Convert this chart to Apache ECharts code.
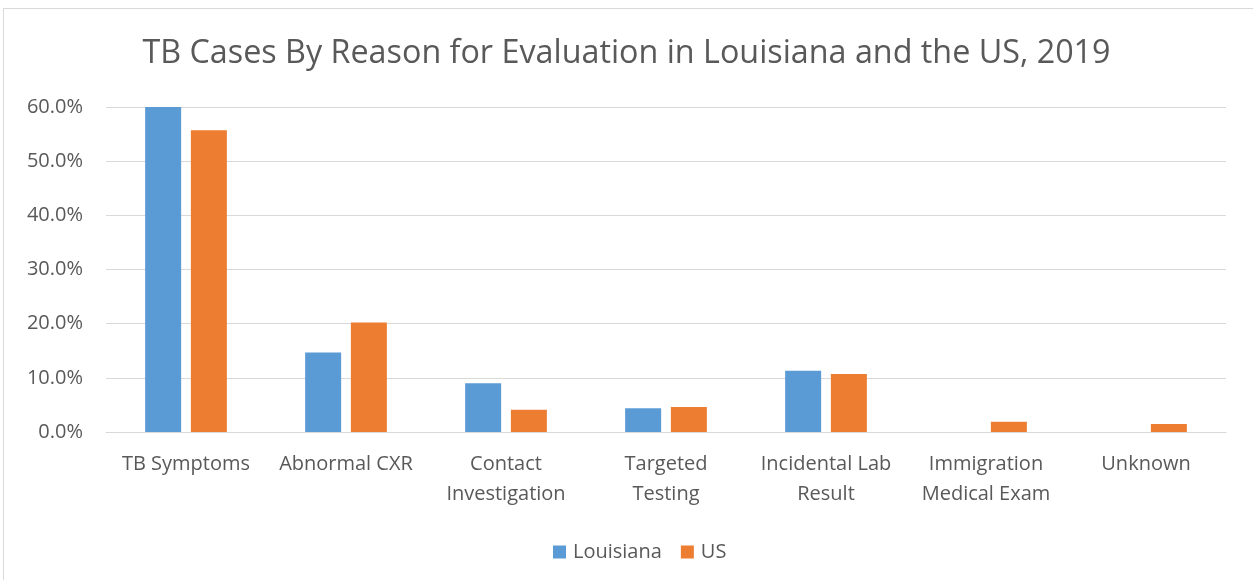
<!DOCTYPE html>
<html>
<head>
<meta charset="utf-8">
<script src="https://cdn.jsdelivr.net/npm/echarts@6/dist/echarts.min.js"></script>
<style>
    html, body { margin:0; padding:0; background:#fff; }
    #frame { position:absolute; left:3px; top:8px; width:1262px; height:580px; border:1px solid #d9d9d9; box-sizing:border-box; }
    #myChart { position:absolute; left:0; top:0; width:1253px; height:580px; }
</style>
</head>
<body>
<div id="frame"></div>
<div id="myChart"></div>
<script>
// reasons for evaluation (x axis)
var categories = ['TB Symptoms', 'Abnormal CXR', 'Contact\nInvestigation', 'Targeted\nTesting',
    'Incidental Lab\nResult', 'Immigration\nMedical Exam', 'Unknown'];
// percent of cases
var louisiana = [60.0, 14.7, 9.0, 4.4, 11.3, 0, 0];
var us = [55.7, 20.2, 4.1, 4.6, 10.7, 1.9, 1.5];
var seriesNames = ['Louisiana', 'US'];

var font = '"Open Sans", sans-serif';
var chart = echarts.init(document.getElementById('myChart'));
chart.setOption({
    animation:false,
    title:{
        text:'TB Cases By Reason for Evaluation in Louisiana and the US, 2019',
        left:'center',
        top:30,
        textStyle:{
            fontFamily:font,
            fontSize:32.3,
            fontWeight:'normal',
            color:'#595959',
            lineHeight:38
        }
    },
    legend:{
        data:seriesNames,
        left:548,
        top:537,
        itemWidth:13,
        itemHeight:13,
        itemGap:19,
        icon:'rect',
        textStyle:{
            fontFamily:font,
            fontSize:20,
            color:'#595959',
            padding:[0,0,0,2]
        }
    },
    grid:{
        left:106,
        right:27,
        top:107,
        bottom:148,
        containLabel:false
    },
    xAxis:[{
        type:'category',
        data:categories,
        axisLine:{ show:true, lineStyle:{ color:'#d9d9d9', width:1 } },
        axisTick:{ show:false },
        axisLabel:{
            interval:0,
            margin:17,
            fontFamily:font,
            fontSize:20,
            color:'#595959',
            lineHeight:30
        }
    }],
    yAxis:[{
        type:'value',
        min:0,
        max:60,
        interval:10,
        axisLine:{ show:false },
        axisTick:{ show:false },
        splitLine:{ show:true, lineStyle:{ color:'#d9d9d9', width:1 } },
        axisLabel:{
            margin:23,
            fontFamily:font,
            fontSize:20,
            color:'#595959',
            formatter:function(v){ return v.toFixed(1) + '%'; }
        }
    }],
    series:[
        {
            name:seriesNames[0],
            type:'bar',
            data:louisiana,
            barWidth:'22.5%',
            barGap:'27%',
            itemStyle:{ color:'#5b9bd5' }
        },
        {
            name:seriesNames[1],
            type:'bar',
            data:us,
            barWidth:'22.5%',
            barGap:'27%',
            itemStyle:{ color:'#ed7d31' }
        }
    ]
});
</script>
</body>
</html>
